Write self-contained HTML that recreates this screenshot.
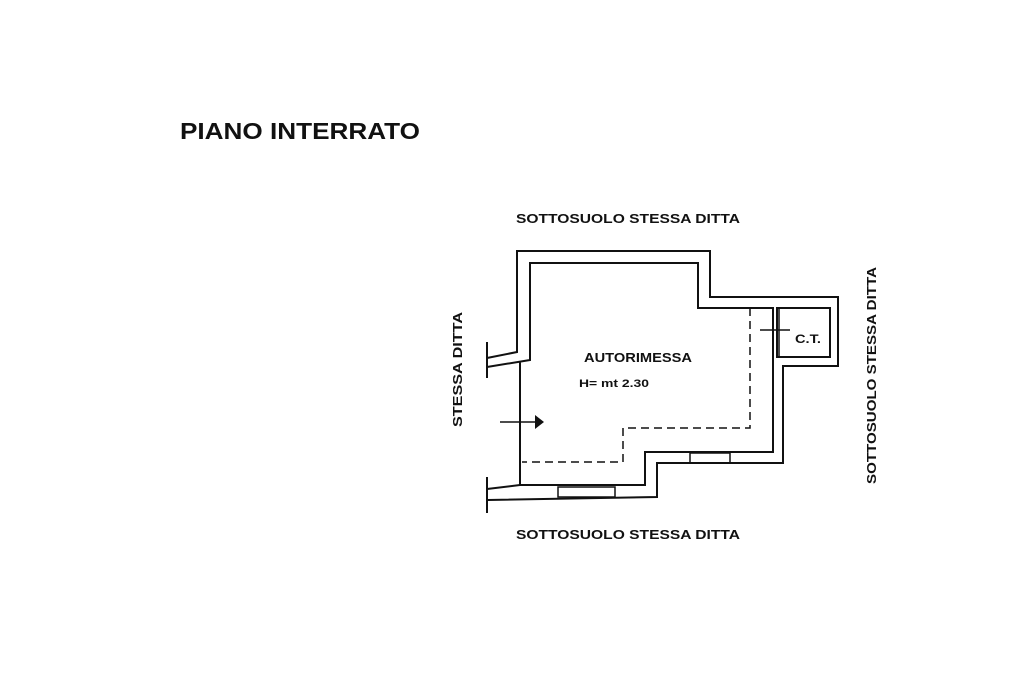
<!DOCTYPE html>
<html><head><meta charset="utf-8"><style>
body{margin:0;background:#fff}
svg text{font-family:"Liberation Sans",sans-serif;font-weight:bold;fill:#111}
</style></head><body>
<svg width="1024" height="683" viewBox="0 0 1024 683" xmlns="http://www.w3.org/2000/svg">
<text x="180" y="139" font-size="23" textLength="240" lengthAdjust="spacingAndGlyphs">PIANO INTERRATO</text>
<text x="516" y="223" font-size="13" textLength="224" lengthAdjust="spacingAndGlyphs">SOTTOSUOLO STESSA DITTA</text>
<text x="516" y="539" font-size="13" textLength="224" lengthAdjust="spacingAndGlyphs">SOTTOSUOLO STESSA DITTA</text>
<text transform="translate(462,427) rotate(-90)" font-size="13" textLength="115" lengthAdjust="spacingAndGlyphs">STESSA DITTA</text>
<text transform="translate(876,484) rotate(-90)" font-size="13" textLength="217" lengthAdjust="spacingAndGlyphs">SOTTOSUOLO STESSA DITTA</text>
<text x="584" y="362" font-size="13" textLength="108" lengthAdjust="spacingAndGlyphs">AUTORIMESSA</text>
<text x="579" y="387" font-size="11" textLength="70" lengthAdjust="spacingAndGlyphs">H= mt 2.30</text>
<text x="795" y="343" font-size="12" textLength="26" lengthAdjust="spacingAndGlyphs">C.T.</text>
<g fill="none" stroke="#111" stroke-width="2">
<polyline points="487,358 517,352 517,251 710,251 710,297 838,297 838,366 783,366 783,463 657,463 657,497 488,500"/>
<polyline points="487,367 530,360 530,263 698,263 698,308 773,308 773,452 645,452 645,485 520,485 520,362"/>
<line x1="487" y1="342" x2="487" y2="378"/>
<line x1="487" y1="477" x2="487" y2="513"/>
<line x1="487" y1="489" x2="520" y2="485"/>
<rect x="777" y="308" width="53" height="49"/>
<line x1="779" y1="308" x2="779" y2="357" stroke-width="1.5"/>
<line x1="760" y1="330" x2="790" y2="330" stroke-width="1.5"/>
<rect x="558" y="487" width="57" height="10" stroke-width="1.5"/>
<rect x="690" y="453" width="40" height="10" stroke-width="1.5"/>
<line x1="500" y1="422" x2="536" y2="422" stroke-width="1.5"/>
<polyline points="750,308 750,428 623,428 623,462 522,462" stroke-dasharray="8,5" stroke-width="1.5"/>
</g>
<polygon points="544,422 535,415 535,429" fill="#111"/>
</svg>
</body></html>
